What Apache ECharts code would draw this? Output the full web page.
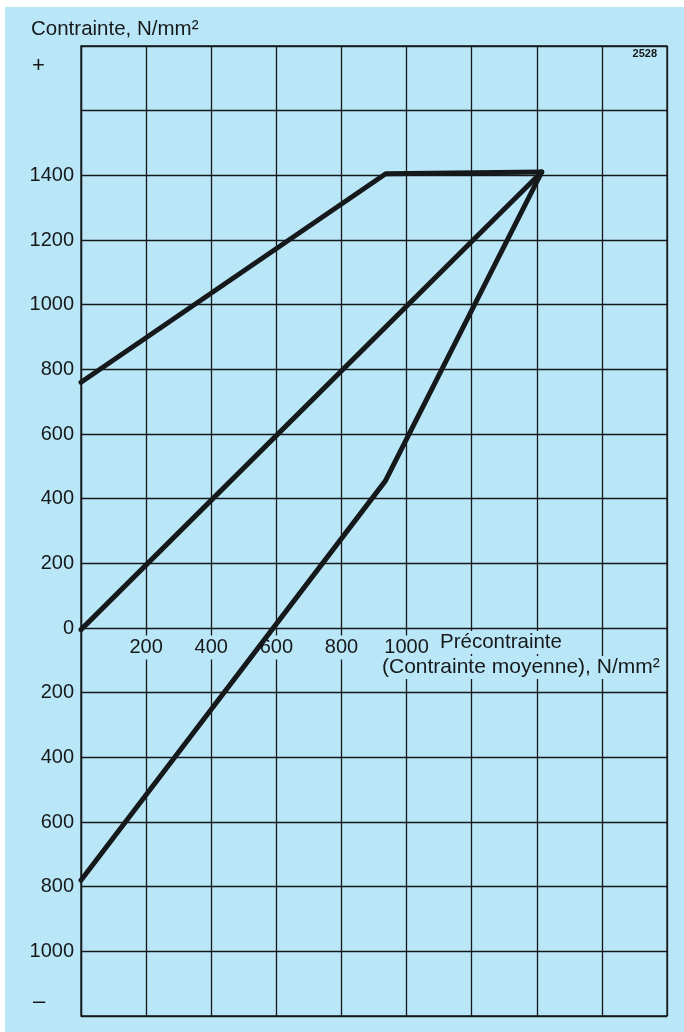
<!DOCTYPE html>
<html>
<head>
<meta charset="utf-8">
<script src="https://cdn.jsdelivr.net/npm/echarts@6/dist/echarts.min.js"></script>
<style>
html,body{margin:0;padding:0;background:#ffffff;}
#wrap{position:relative;width:684px;height:1032px;background:#ffffff;overflow:hidden;}
#chart{position:absolute;left:5px;top:7px;width:679px;height:1025px;}
</style>
</head>
<body>
<div id="wrap"><div id="chart"></div></div>
<script>
// ---- data ----
var xTickLabels = [200, 400, 600, 800, 1000];
var upperLine = [[0, 760], [936, 1405], [1415, 1410]];
var middleLine = [[0, -5], [1415, 1410]];
var lowerLine = [[0, -780], [935, 455], [1415, 1410]];
var yHiddenTicks = [1600, 1800, -1200];
var titleText = 'Contrainte, N/mm\u00b2';
var xNameLine1 = 'Pr\u00e9contrainte';
var xNameLine2 = '(Contrainte moyenne), N/mm\u00b2';
var figureNumber = '2528';

var BG = '#bae7f7';
var INK = '#16191b';
var FONT = 'Liberation Sans, Arial, Helvetica, sans-serif';

var chart = echarts.init(document.getElementById('chart'), null, {renderer: 'canvas'});

function lineSeries(data) {
  return {
    type: 'line',
    data: data,
    symbol: 'none',
    z: 10,
    lineStyle: {color: INK, width: 5, join: 'round', cap: 'round'},
    animation: false
  };
}

var option = {
  backgroundColor: BG,
  animation: false,
  grid: {left: 76, top: 39, right: 17, bottom: 16, show: true, borderColor: INK, borderWidth: 1.3, containLabel: false},
  xAxis: {
    type: 'value', min: 0, max: 1800, interval: 200,
    offset: 0,
    axisLine: {show: false, onZero: false},
    axisTick: {show: false},
    splitLine: {show: true, lineStyle: {color: INK, width: 1.3}},
    axisLabel: {
      customValues: xTickLabels,
      color: INK, fontSize: 20, fontFamily: FONT,
      margin: 3, backgroundColor: BG, padding: [2, 2, 2, 2],
      formatter: function (v) { return String(v); }
    }
  },
  yAxis: {
    type: 'value', min: -1200, max: 1800, interval: 200,
    axisLine: {show: true, onZero: false, lineStyle: {color: INK, width: 1.3}},
    axisTick: {show: false},
    splitLine: {show: true, lineStyle: {color: INK, width: 1.3}},
    axisLabel: {
      color: INK, fontSize: 20, fontFamily: FONT, margin: 7,
      formatter: function (v) {
        if (yHiddenTicks.indexOf(v) >= 0) return '';
        return String(Math.abs(v));
      }
    }
  },
  series: [lineSeries(upperLine), lineSeries(middleLine), lineSeries(lowerLine)],
  graphic: [
    {type: 'text', left: 26, top: 12, z: 20, style: {text: titleText, fill: INK, font: '20.5px ' + FONT}},
    {type: 'text', left: 27, top: 48, z: 20, style: {text: '+', fill: INK, font: '22px ' + FONT}},
    {type: 'text', left: 28, top: 984, z: 20, style: {text: '\u2013', fill: INK, font: '22px ' + FONT}},
    {type: 'text', right: 27, top: 41, z: 20, style: {text: figureNumber, fill: INK, font: 'bold 11px ' + FONT}},
    {type: 'text', left: 433, top: 624, z: 5, style: {text: xNameLine1, fill: INK, font: '20.5px ' + FONT, backgroundColor: BG, padding: [1, 2, 1, 2]}},
    {type: 'text', left: 375, top: 649, z: 5, style: {text: xNameLine2, fill: INK, font: '21px ' + FONT, backgroundColor: BG, padding: [1, 0, 1, 2]}}
  ]
};
chart.setOption(option);

// place the x-axis labels on the zero line (offset from the grid bottom)
var gridRect = chart.getModel().getComponent('grid', 0).coordinateSystem.getRect();
var zeroY = chart.convertToPixel({gridIndex: 0}, [0, 0])[1];
chart.setOption({xAxis: {offset: -(gridRect.y + gridRect.height - zeroY)}});
</script>
</body>
</html>
